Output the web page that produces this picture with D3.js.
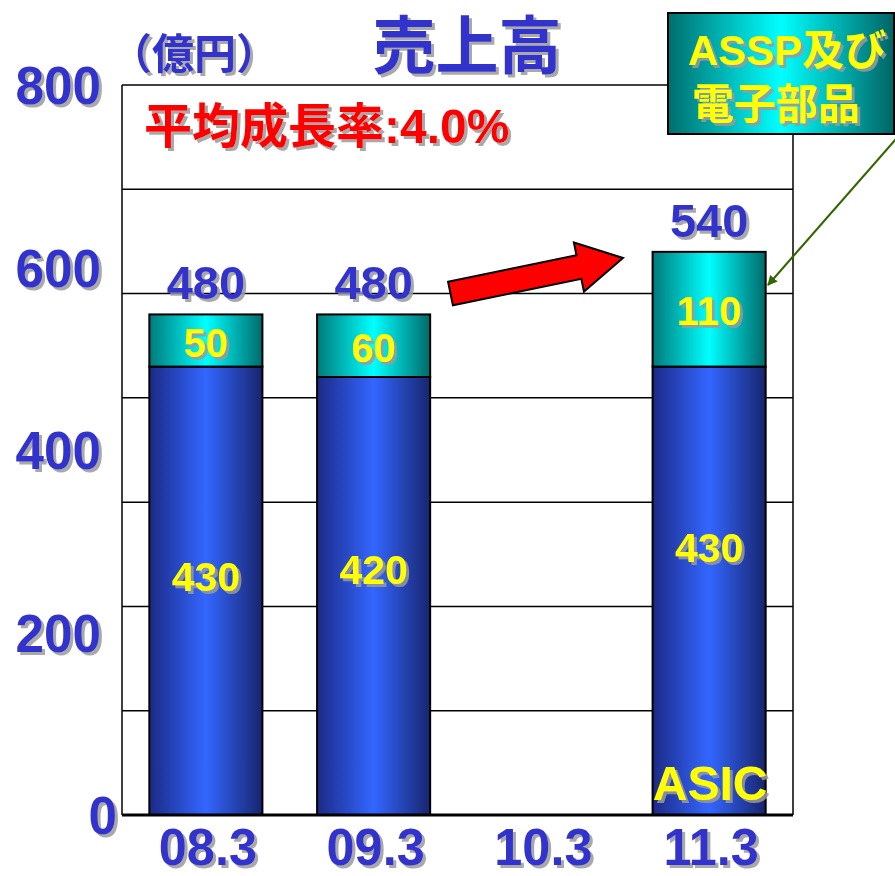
<!DOCTYPE html>
<html><head><meta charset="utf-8">
<script src="https://cdn.jsdelivr.net/npm/d3@7"></script>
<style>
html,body{margin:0;padding:0;background:#fff;}
svg{display:block;}
text{font-family:"Liberation Sans",Arial,"Noto Sans CJK JP",sans-serif;font-weight:bold;}
</style></head>
<body>
<script>
// ---------- data ----------
const categories = ["08.3", "09.3", "10.3", "11.3"];
const asicValues = [430, 420, null, 430];
const asspValues = [50, 60, null, 110];
const totalValues = [480, 480, null, 540];
const yTickLabels = [0, 200, 400, 600, 800];
const gridValues = [100, 200, 300, 400, 500, 600, 700];
const titleText = "売上高";
const unitText = "（億円）";
const growthText = "平均成長率:4.0%";
const calloutLines = ["ASSP及び", "電子部品"];
const asicSeriesName = "ASIC";

// ---------- layout (not data) ----------
const W = 895, H = 876;
const plot = {left: 122, right: 793, top: 85, bottom: 815};
const asicLabelAnchor = [228, 235, null, 256]; // value-space anchor of inner labels

const svg = d3.select("body").append("svg").attr("width", W).attr("height", H);
const defs = svg.append("defs");

function hGrad(id, edgeL, mid, edgeR) {
  const g = defs.append("linearGradient").attr("id", id).attr("x1", "0%").attr("x2", "100%").attr("y1", "0%").attr("y2", "0%");
  g.append("stop").attr("offset", "0%").attr("stop-color", edgeL);
  g.append("stop").attr("offset", "50%").attr("stop-color", mid);
  g.append("stop").attr("offset", "100%").attr("stop-color", edgeR);
}
hGrad("gAsic", "#1c2a86", "#3366ff", "#18256e");
hGrad("gAssp", "#007a7a", "#00ffff", "#006a6a");
hGrad("gBox", "#006e6e", "#00ffff", "#006464");

const f = defs.append("filter").attr("id", "shadow").attr("x", "-10%").attr("y", "-10%").attr("width", "130%").attr("height", "140%");
f.append("feDropShadow").attr("dx", 3).attr("dy", 3).attr("stdDeviation", 0.6).attr("flood-color", "#9a9a9a").attr("flood-opacity", 0.85);

defs.append("marker").attr("id", "greenHead").attr("viewBox", "0 0 10 10").attr("refX", 9).attr("refY", 5)
  .attr("markerWidth", 10).attr("markerHeight", 10).attr("markerUnits", "userSpaceOnUse").attr("orient", "auto")
  .append("path").attr("d", "M0,0 L10,5 L0,10 z").attr("fill", "#336600");

// ---------- scales ----------
const x = d3.scaleBand().domain(categories).range([plot.left, plot.right]).paddingInner(0.326).paddingOuter(0.163);
const y = d3.scaleLinear().domain([0, 700]).range([plot.bottom, plot.top]);
const yLabel = d3.scaleLinear().domain([0, 800]).range([plot.bottom, plot.top]);

// ---------- frame & grid ----------
const frame = svg.append("g");
frame.selectAll("line.grid").data(gridValues).join("line").attr("class", "grid")
  .attr("x1", plot.left).attr("x2", plot.right).attr("y1", d => y(d)).attr("y2", d => y(d))
  .attr("stroke", "#000").attr("stroke-width", 1.5);
frame.append("line").attr("x1", plot.left).attr("x2", plot.left).attr("y1", plot.top).attr("y2", plot.bottom).attr("stroke", "#000").attr("stroke-width", 1.5);
frame.append("line").attr("x1", plot.right).attr("x2", plot.right).attr("y1", plot.top).attr("y2", plot.bottom).attr("stroke", "#000").attr("stroke-width", 1.5);

// ---------- bars ----------
const rows = categories.map((c, i) => ({c, asic: asicValues[i], assp: asspValues[i], total: totalValues[i], anchor: asicLabelAnchor[i]}))
  .filter(d => d.asic != null);
const bars = svg.append("g");
bars.selectAll("rect.asic").data(rows).join("rect").attr("class", "asic")
  .attr("x", d => x(d.c)).attr("width", x.bandwidth())
  .attr("y", d => y(d.asic)).attr("height", d => y(0) - y(d.asic))
  .attr("fill", "url(#gAsic)").attr("stroke", "#000").attr("stroke-width", 2);
bars.selectAll("rect.assp").data(rows).join("rect").attr("class", "assp")
  .attr("x", d => x(d.c)).attr("width", x.bandwidth())
  .attr("y", d => y(d.asic + d.assp)).attr("height", d => y(d.asic) - y(d.asic + d.assp))
  .attr("fill", "url(#gAssp)").attr("stroke", "#000").attr("stroke-width", 2);

// x axis baseline
svg.append("line").attr("x1", plot.left).attr("x2", plot.right).attr("y1", y(0)).attr("y2", y(0)).attr("stroke", "#000").attr("stroke-width", 3);

// ---------- labels ----------
const lab = svg.append("g").attr("filter", "url(#shadow)");
lab.selectAll("text.asicv").data(rows).join("text").attr("class", "asicv")
  .attr("x", d => x(d.c) + x.bandwidth() / 2).attr("y", d => y(d.anchor) + 14)
  .attr("text-anchor", "middle").attr("font-size", 41).attr("fill", "#ffff00").text(d => d.asic);
lab.selectAll("text.asspv").data(rows).join("text").attr("class", "asspv")
  .attr("x", d => x(d.c) + x.bandwidth() / 2).attr("y", d => (y(d.asic) + y(d.asic + d.assp)) / 2 + 16)
  .attr("text-anchor", "middle").attr("font-size", 40).attr("fill", "#ffff00").text(d => d.assp);
lab.selectAll("text.total").data(rows).join("text").attr("class", "total")
  .attr("x", d => x(d.c) + x.bandwidth() / 2).attr("y", d => y(d.total) - 15)
  .attr("text-anchor", "middle").attr("font-size", 47).attr("fill", "#3333cc").text(d => d.total);

// series name inside last bar
const last = rows[rows.length - 1];
lab.append("text").attr("x", x(last.c) + x.bandwidth() / 2 + 1).attr("y", y(0) - 15)
  .attr("text-anchor", "middle").attr("font-size", 48).attr("fill", "#ffff00").text(asicSeriesName);

// axes labels (slightly condensed glyphs)
lab.selectAll("text.ytick").data(yTickLabels).join("text").attr("class", "ytick")
  .attr("transform", d => `translate(${d === 0 ? 117 : 101},${yLabel(d) + 19}) scale(0.95,1)`)
  .attr("text-anchor", "end")
  .attr("font-size", 54).attr("fill", "#3333cc").text(d => d);
lab.selectAll("text.xtick").data(categories).join("text").attr("class", "xtick")
  .attr("transform", d => `translate(${x(d) + x.bandwidth() / 2 + 2},865) scale(0.97,1)`)
  .attr("text-anchor", "middle")
  .attr("font-size", 52).attr("fill", "#3333cc").text(d => d);

// title & unit
lab.append("text").attr("x", 467).attr("y", 68).attr("text-anchor", "middle").attr("font-size", 63).attr("fill", "#3333cc").text(titleText);
lab.append("text").attr("x", 110).attr("y", 69).attr("font-size", 42).attr("fill", "#3333cc").text(unitText);
lab.append("text").attr("x", 144).attr("y", 143).attr("font-size", 48).attr("fill", "#ff0000").text(growthText);

// ---------- red block arrow ----------
(function () {
  const tail = [450.5, 293.5], tip = [623, 258];
  const dx = tip[0] - tail[0], dy = tip[1] - tail[1], L = Math.hypot(dx, dy);
  const u = [dx / L, dy / L], n = [-u[1], u[0]];
  const sw = 12, hw = 25, hl = 45;
  const hb = [tip[0] - u[0] * hl, tip[1] - u[1] * hl];
  const P = (b, k) => [b[0] + n[0] * k, b[1] + n[1] * k];
  const pts = [P(tail, -sw), P(hb, -sw), P(hb, -hw), tip, P(hb, hw), P(hb, sw), P(tail, sw)];
  svg.append("polygon").attr("points", pts.map(p => p.join(",")).join(" "))
    .attr("fill", "#ff0000").attr("stroke", "#000").attr("stroke-width", 2).attr("stroke-linejoin", "miter");
})();

// ---------- callout ----------
svg.append("line").attr("x1", 896).attr("y1", 139).attr("x2", 768).attr("y2", 285)
  .attr("stroke", "#336600").attr("stroke-width", 2).attr("marker-end", "url(#greenHead)");
svg.append("rect").attr("x", 668).attr("y", 13).attr("width", 226).attr("height", 121)
  .attr("fill", "url(#gBox)").attr("stroke", "#000").attr("stroke-width", 2);
const cl = svg.append("g").attr("filter", "url(#shadow)");
cl.selectAll("text").data(calloutLines).join("text")
  .attr("x", (d, i) => i === 0 ? 688 : 692).attr("y", (d, i) => 65 + i * 54)
  .attr("font-size", 42).attr("fill", "#ffff00").text(d => d);
</script>
</body></html>
